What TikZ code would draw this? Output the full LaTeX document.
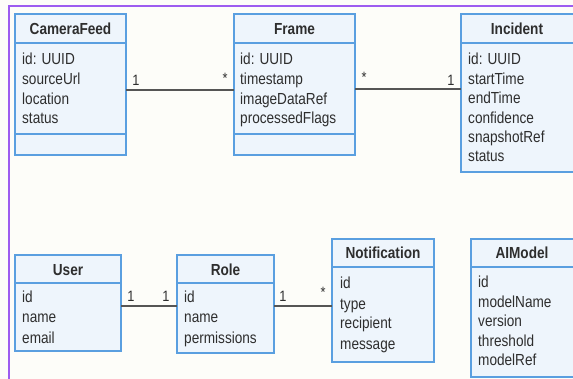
\documentclass[tikz,border=0pt]{standalone}
\usepackage{fontspec}
\setmainfont{Liberation Sans}[FakeStretch=0.85]
\definecolor{paper}{HTML}{FDFDF9}
\definecolor{frameviolet}{HTML}{9D5CF0}
\definecolor{umlblue}{HTML}{5A9FE0}
\definecolor{umlfill}{HTML}{EEF5FC}
\definecolor{wire}{HTML}{555555}
\definecolor{ink}{HTML}{2E2E2E}
\begin{document}
\begin{tikzpicture}[x=1pt,y=-1pt,
  classbox/.style={draw=umlblue,fill=umlfill,line width=1.8pt,inner sep=0pt,outer sep=0pt},
  divider/.style={draw=umlblue,line width=1.8pt},
  title/.style={inner sep=0pt,anchor=base,text=ink,font=\fontsize{16}{19}\selectfont\bfseries},
  attr/.style={inner sep=0pt,anchor=base west,text=ink,font=\fontsize{16}{19}\selectfont},
  mult/.style={inner sep=0pt,text=ink,font=\fontsize{15}{18}\selectfont},
  assoc/.style={draw=wire,line width=1.8pt}]
% page and the violet frame edge
\fill[paper] (0,0) rectangle (573,379);
\useasboundingbox (0,0) rectangle (573,379);
\draw[frameviolet,line width=2pt] (8.5,380) -- (8.5,6) -- (574,6);

% class boxes: (left,top) corner, then the compartment dividers
\path[classbox] (15,14) rectangle (126,155) node[pos=0,anchor=north west,minimum width=111pt,minimum height=141pt] (cf) {};
\draw[divider] (15,43) -- (126,43) (15,134) -- (126,134);
\path[classbox] (234,14) rectangle (355,155) node[pos=0,anchor=north west,minimum width=121pt,minimum height=141pt] (fr) {};
\draw[divider] (234,43) -- (355,43) (234,134) -- (355,134);
\path[classbox] (461,14) rectangle (575,172) node[pos=0,anchor=north west,minimum width=114pt,minimum height=158pt] (inc) {};
\draw[divider] (461,43) -- (575,43);
\path[classbox] (15,255) rectangle (121,351) node[pos=0,anchor=north west,minimum width=106pt,minimum height=96pt] (usr) {};
\draw[divider] (15,283) -- (121,283);
\path[classbox] (177,255) rectangle (274,353) node[pos=0,anchor=north west,minimum width=97pt,minimum height=98pt] (role) {};
\draw[divider] (177,283) -- (274,283);
\path[classbox] (332,239) rectangle (434,362) node[pos=0,anchor=north west,minimum width=102pt,minimum height=123pt] (note) {};
\draw[divider] (332,267) -- (434,267);
\path[classbox] (471,239) rectangle (575,377) node[pos=0,anchor=north west,minimum width=104pt,minimum height=138pt] (aim) {};
\draw[divider] (471,267) -- (575,267);

% class names
\node[title] (cf-t) at (70.5,35) {CameraFeed};
\node[title] (fr-t) at (294.5,35) {Frame};
\node[title] (inc-t) at (517,35) {Incident};
\node[title] (usr-t) at (68,276) {User};
\node[title] (role-t) at (225.5,276) {Role};
\node[title] (note-t) at (383,259) {Notification};
\node[title] (aim-t) at (522,259) {AIModel};

% attributes
\foreach \t [count=\i] in {id: UUID,sourceUrl,location,status}
  \node[attr] (cf-a\i) at (22,{65+19.6*(\i-1)}) {\t};
\foreach \t [count=\i] in {id: UUID,timestamp,imageDataRef,processedFlags}
  \node[attr] (fr-a\i) at (240,{65+19.6*(\i-1)}) {\t};
\foreach \t [count=\i] in {id: UUID,startTime,endTime,confidence,snapshotRef,status}
  \node[attr] (inc-a\i) at (468,{65+19.4*(\i-1)}) {\t};
\foreach \t [count=\i] in {id,name,email}
  \node[attr] (usr-a\i) at (22,{303+20*(\i-1)}) {\t};
\foreach \t [count=\i] in {id,name,permissions}
  \node[attr] (role-a\i) at (184,{303+20*(\i-1)}) {\t};
\foreach \t [count=\i] in {id,type,recipient,message}
  \node[attr] (note-a\i) at (340,{289+20*(\i-1)}) {\t};
\foreach \t [count=\i] in {id,modelName,version,threshold,modelRef}
  \node[attr] (aim-a\i) at (478,{288+19.4*(\i-1)}) {\t};

% associations
\coordinate (rowA) at (0,90);
\coordinate (rowB) at (0,89);
\coordinate (rowC) at (0,306);
\draw[assoc] (cf.east |- rowA) -- (fr.west |- rowA);
\draw[assoc] (fr.east |- rowB) -- (inc.west |- rowB);
\draw[assoc] (usr.east |- rowC) -- (role.west |- rowC);
\draw[assoc] (role.east |- rowC) -- (note.west |- rowC);

% multiplicities
\node[mult] (m1) at (136,80) {1};
\node[mult] (m2) at (225,78) {*};
\node[mult] (m3) at (364,77) {*};
\node[mult] (m4) at (451,80) {1};
\node[mult] (m5) at (131,296) {1};
\node[mult] (m6) at (166,296) {1};
\node[mult] (m7) at (283,296) {1};
\node[mult] (m8) at (323,292) {*};
\end{tikzpicture}
\end{document}
